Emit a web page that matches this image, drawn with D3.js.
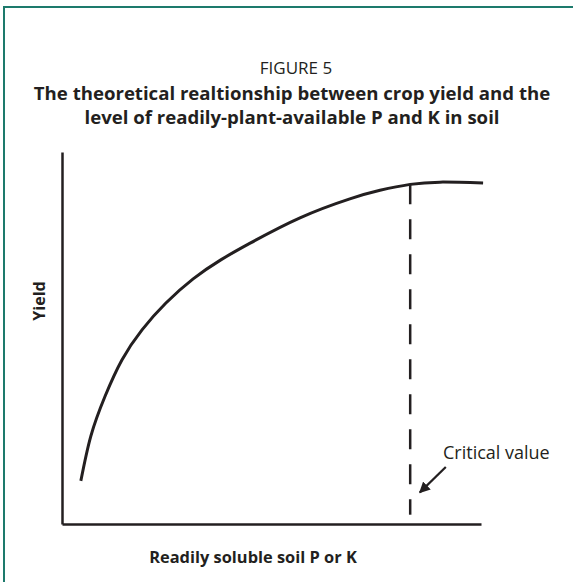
<!DOCTYPE html>
<html>
<head>
<meta charset="utf-8">
<script src="https://cdn.jsdelivr.net/npm/d3@7"></script>
<style>
  body { margin: 0; background: #fff; }
  text { font-family: "Open Sans", "Noto Sans", sans-serif; fill: #231f20; }
</style>
</head>
<body>
<div id="chart"></div>
<script>
// curve (x and y as % of axis length)
const soilLevel = [4.5, 6.9, 10.3, 14.3, 19.1, 24.8, 31.3, 37.9, 44.9, 56.8, 68.7, 75.9, 83.1, 90.2, 100.5];
const yieldLevel = [11.6, 23.7, 34.4, 44.1, 52.2, 59.4, 65.9, 71.0, 75.5, 82.3, 87.4, 89.7, 91.3, 91.9, 91.7];
const criticalValue = 83.1;
const criticalBottom = 2.5;
const arrowFrom = [91.6, 15.3];
const arrowTo = [85.4, 8.5];
const titleLines = ['The theoretical realtionship between crop yield and the',
                    'level of readily-plant-available P and K in soil'];

const width = 573, height = 582;
const svg = d3.select('#chart').append('svg')
  .attr('width', width).attr('height', height);

// green frame (open at right and bottom)
svg.append('path')
  .attr('d', `M4,${height} V7 H${width}`)
  .attr('fill', 'none')
  .attr('stroke', '#1d7a6c')
  .attr('stroke-width', 2);

svg.append('text')
  .attr('x', 296).attr('y', 74)
  .attr('text-anchor', 'middle')
  .style('font-size', '17px')
  .text('FIGURE 5');

svg.selectAll('.title').data(titleLines).enter().append('text')
  .attr('class', 'title')
  .attr('x', 292).attr('y', (d, i) => 100 + i * 24)
  .attr('text-anchor', 'middle')
  .style('font-size', '18.6px').style('font-weight', 'bold')
  .text(d => d);

const x = d3.scaleLinear().domain([0, 100]).range([62, 481]);
const y = d3.scaleLinear().domain([0, 100]).range([524, 152]);

// axes: plain lines, no ticks
svg.append('g')
  .attr('transform', `translate(${x(0)},0)`)
  .call(d3.axisLeft(y).tickValues([]).tickSizeOuter(0))
  .select('.domain').attr('stroke', '#231f20').attr('stroke-width', 2.5);
svg.append('g')
  .attr('transform', `translate(0,${y(0)})`)
  .call(d3.axisBottom(x).tickValues([]).tickSizeOuter(0))
  .select('.domain').attr('stroke', '#231f20').attr('stroke-width', 2.5);

const pts = soilLevel.map((s, i) => [s, yieldLevel[i]]);
svg.append('path')
  .datum(pts)
  .attr('d', d3.line().x(d => x(d[0])).y(d => y(d[1])).curve(d3.curveNatural))
  .attr('fill', 'none')
  .attr('stroke', '#231f20')
  .attr('stroke-width', 3);

// critical value dashed line
const critTop = yieldLevel[soilLevel.indexOf(criticalValue)];
svg.append('line')
  .attr('x1', x(criticalValue)).attr('x2', x(criticalValue))
  .attr('y1', y(critTop)).attr('y2', y(criticalBottom))
  .attr('stroke', '#231f20')
  .attr('stroke-width', 2.5)
  .attr('stroke-dasharray', '20,15');

// arrow
svg.append('defs').append('marker')
  .attr('id', 'arrow').attr('viewBox', '0 0 10 10')
  .attr('refX', 9).attr('refY', 5)
  .attr('markerWidth', 5).attr('markerHeight', 5)
  .attr('markerUnits', 'strokeWidth')
  .attr('orient', 'auto')
  .append('path').attr('d', 'M0,0 L10,5 L0,10 Z').attr('fill', '#231f20');
svg.append('line')
  .attr('x1', x(arrowFrom[0])).attr('y1', y(arrowFrom[1]))
  .attr('x2', x(arrowTo[0])).attr('y2', y(arrowTo[1]))
  .attr('stroke', '#231f20').attr('stroke-width', 2.2)
  .attr('marker-end', 'url(#arrow)');

svg.append('text')
  .attr('x', 443).attr('y', 459)
  .style('font-size', '18px')
  .text('Critical value');

svg.append('text')
  .attr('transform', 'translate(45,301) rotate(-90)')
  .attr('text-anchor', 'middle')
  .style('font-size', '16px').style('font-weight', 'bold')
  .text('Yield');

svg.append('text')
  .attr('x', 253).attr('y', 563)
  .attr('text-anchor', 'middle')
  .style('font-size', '16.4px').style('font-weight', 'bold')
  .text('Readily soluble soil P or K');
</script>
</body>
</html>
